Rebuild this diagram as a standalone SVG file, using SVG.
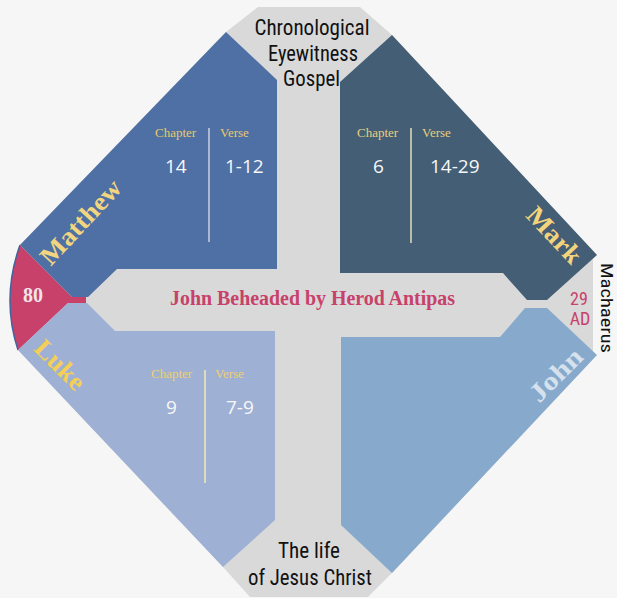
<svg xmlns="http://www.w3.org/2000/svg" width="617" height="598" viewBox="0 0 617 598">
<style>
.title{font-family:"Liberation Sans Narrow","Roboto Condensed","DejaVu Sans Condensed",Roboto,sans-serif;font-size:22px;fill:#111;text-anchor:middle}
.gname{font-family:"Liberation Serif",serif;font-weight:bold;font-size:26px;text-anchor:middle}
.lbl{font-family:"Liberation Serif",serif;font-size:13px}
.num{font-family:"Open Sans","Noto Sans",sans-serif;font-size:19px;fill:#f7f7f7}
.red{fill:#c8416a}
</style>
<rect width="617" height="598" fill="#f6f6f6"/>
<g id="cross">
<polygon points="226,32 258,7 360,7 392,35 593,251 593,359 392,573 368,597 250,597 223,567 18,350 20,245" fill="#d9d9d9"/>
</g>
<g id="year80">
<path d="M20,245 L72,297 L86,297 L86,303 L68,303 L18,350 Q1,298 20,245 Z" class="red"/>
<path d="M20,245 Q1,298 18,350" fill="none" stroke="#41649e" stroke-width="1.5"/>
<text x="33" y="302" font-family="Liberation Serif,serif" font-weight="bold" font-size="20" fill="#f2e4e8" text-anchor="middle">80</text>
</g>
<g id="matthew">
<polygon points="226,32 277,80 277,269 117,269 88,297 72,297 20,245" fill="#4f70a4"/>
<text class="gname" fill="#f2d57f" textLength="106" lengthAdjust="spacingAndGlyphs" transform="translate(87,228) rotate(-47)">Matthew</text>
<text class="lbl" x="155" y="137" fill="#e9c86a">Chapter</text>
<text class="lbl" x="220" y="137" fill="#e9c86a">Verse</text>
<line x1="209" y1="128" x2="209" y2="242" stroke="#c9d2e2" stroke-width="1.5"/>
<text class="num" x="165" y="173">14</text>
<text class="num" x="225" y="173">1-12</text>
</g>
<g id="mark">
<polygon points="392,35 340,82 340,273 503,273 527,300 547,300 597,255" fill="#435e75"/>
<text class="gname" fill="#f3d47c" textLength="68" lengthAdjust="spacingAndGlyphs" transform="translate(548,241) rotate(47)">Mark</text>
<text class="lbl" x="357" y="137" fill="#e8cf7f">Chapter</text>
<text class="lbl" x="422" y="137" fill="#e8cf7f">Verse</text>
<line x1="411" y1="128" x2="411" y2="243" stroke="#e6dcb5" stroke-width="1.5"/>
<text class="num" x="373" y="173">6</text>
<text class="num" x="430" y="173">14-29</text>
</g>
<g id="luke">
<polygon points="18,350 68,303 87,303 115,331 275,331 275,520 223,567" fill="#9eb0d4"/>
<text class="gname" fill="#f5cf55" textLength="60" lengthAdjust="spacingAndGlyphs" transform="translate(54,371) rotate(45)">Luke</text>
<text class="lbl" x="151" y="378" fill="#f0cf6c">Chapter</text>
<text class="lbl" x="215" y="378" fill="#f0cf6c">Verse</text>
<line x1="205" y1="370" x2="205" y2="483" stroke="#f3e9b5" stroke-width="1.5"/>
<text class="num" x="166" y="414">9</text>
<text class="num" x="226" y="414">7-9</text>
</g>
<g id="john">
<polygon points="341,337 500,337 525,308 547,308 597,355 392,573 341,525" fill="#87aacc"/>
<text class="gname" fill="#d6e1ee" textLength="64" lengthAdjust="spacingAndGlyphs" transform="translate(562,381) rotate(-45)">John</text>
</g>
<g id="event">
<text x="312.5" y="305" font-family="Liberation Serif,serif" font-weight="bold" font-size="20" class="red" text-anchor="middle" textLength="285" lengthAdjust="spacingAndGlyphs">John Beheaded by Herod Antipas</text>
</g>
<g id="top-label">
<text class="title" x="312" y="35" textLength="115" lengthAdjust="spacingAndGlyphs">Chronological</text>
<text class="title" x="313" y="61" textLength="90" lengthAdjust="spacingAndGlyphs">Eyewitness</text>
<text class="title" x="311.5" y="86" textLength="57" lengthAdjust="spacingAndGlyphs">Gospel</text>
</g>
<g id="bottom-label">
<text class="title" x="309" y="558" textLength="62" lengthAdjust="spacingAndGlyphs">The life</text>
<text class="title" x="310" y="585" textLength="124" lengthAdjust="spacingAndGlyphs">of Jesus Christ</text>
</g>
<g id="place-date">
<text x="579" y="305" font-family="Liberation Sans Narrow,Roboto Condensed,Roboto,sans-serif" font-size="18" class="red" text-anchor="middle">29</text>
<text x="580" y="325" font-family="Liberation Sans Narrow,Roboto Condensed,Roboto,sans-serif" font-size="18" class="red" text-anchor="middle">AD</text>
<text font-family="Liberation Sans Narrow,Roboto Condensed,Roboto,sans-serif" font-size="17" fill="#111" textLength="90" lengthAdjust="spacingAndGlyphs" transform="translate(601,263) rotate(90)">Machaerus</text>
</g>
<g id="connectors"></g>
</svg>
